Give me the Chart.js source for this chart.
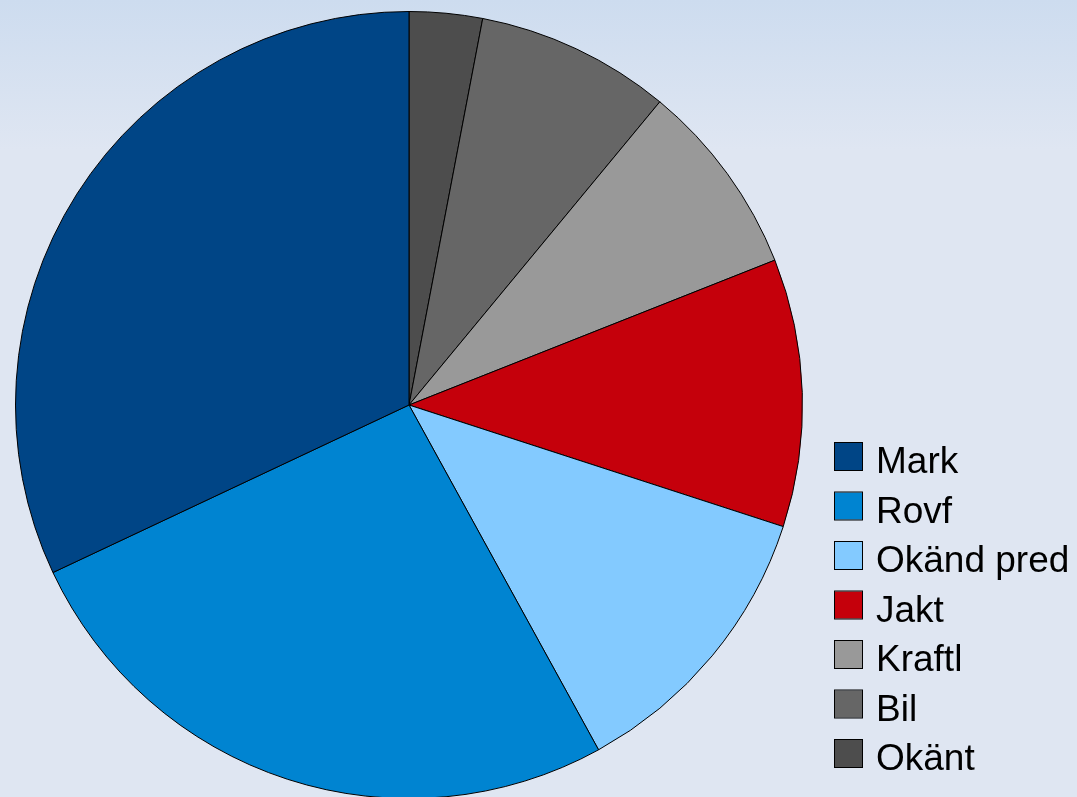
<!DOCTYPE html>
<html lang="sv">
<head>
    <meta charset="UTF-8">
    <title>Dödsorsaker</title>
    <script src="https://cdn.jsdelivr.net/npm/chart.js"></script>
    <style>
        html, body {
            margin: 0;
            padding: 0;
            overflow: hidden;
            width: 1077px;
            height: 797px;
            background: linear-gradient(to bottom, #cddcef 0px, #dfe6f2 150px, #dfe6f2 797px);
        }
        canvas {
            display: block;
        }
    </style>
</head>
<body>
    <canvas id="grafik" width="1077" height="810"></canvas>

    <script>
        // Kategorier och andelar (legendens ordning)
        const kategorier = ["Mark", "Rovf", "Okänd pred", "Jakt", "Kraftl", "Bil", "Okänt"];
        const andelar = [32, 26, 12, 11, 8, 8, 3];
        const farger = ["#004586", "#0084d1", "#83caff", "#c5000b", "#999999", "#666666", "#4d4d4d"];

        // Tårtan ritas moturs från klockan tolv, så vi vänder ordningen för Chart.js
        const etiketter = kategorier.slice().reverse();
        const varden = andelar.slice().reverse();
        const fargerOmvand = farger.slice().reverse();

        // Egen legend till höger
        const egenLegend = {
            id: 'egenLegend',
            afterDraw(chart) {
                const ctx = chart.ctx;
                ctx.save();
                ctx.font = '37px "Liberation Sans", Arial, sans-serif';
                ctx.textBaseline = 'alphabetic';
                kategorier.forEach((namn, i) => {
                    const y = 443 + i * 49.5;
                    ctx.fillStyle = farger[i];
                    ctx.fillRect(835, y, 27, 27);
                    ctx.strokeStyle = '#000';
                    ctx.lineWidth = 1;
                    ctx.strokeRect(834.5, y - 0.5, 28, 28);
                    ctx.fillStyle = '#000';
                    ctx.fillText(namn, 876, y + 30);
                });
                ctx.restore();
            }
        };

        const ctx = document.getElementById('grafik').getContext('2d');
        new Chart(ctx, {
            type: 'pie',
            data: {
                labels: etiketter,
                datasets: [{
                    data: varden,
                    backgroundColor: fargerOmvand,
                    borderColor: '#000000',
                    borderWidth: 1,
                    hoverOffset: 0
                }]
            },
            options: {
                responsive: false,
                animation: false,
                layout: {
                    padding: { left: 15, top: 11, right: 274, bottom: 11 }
                },
                plugins: {
                    legend: { display: false },
                    tooltip: { enabled: false }
                }
            },
            plugins: [egenLegend]
        });
    </script>
</body>
</html>
